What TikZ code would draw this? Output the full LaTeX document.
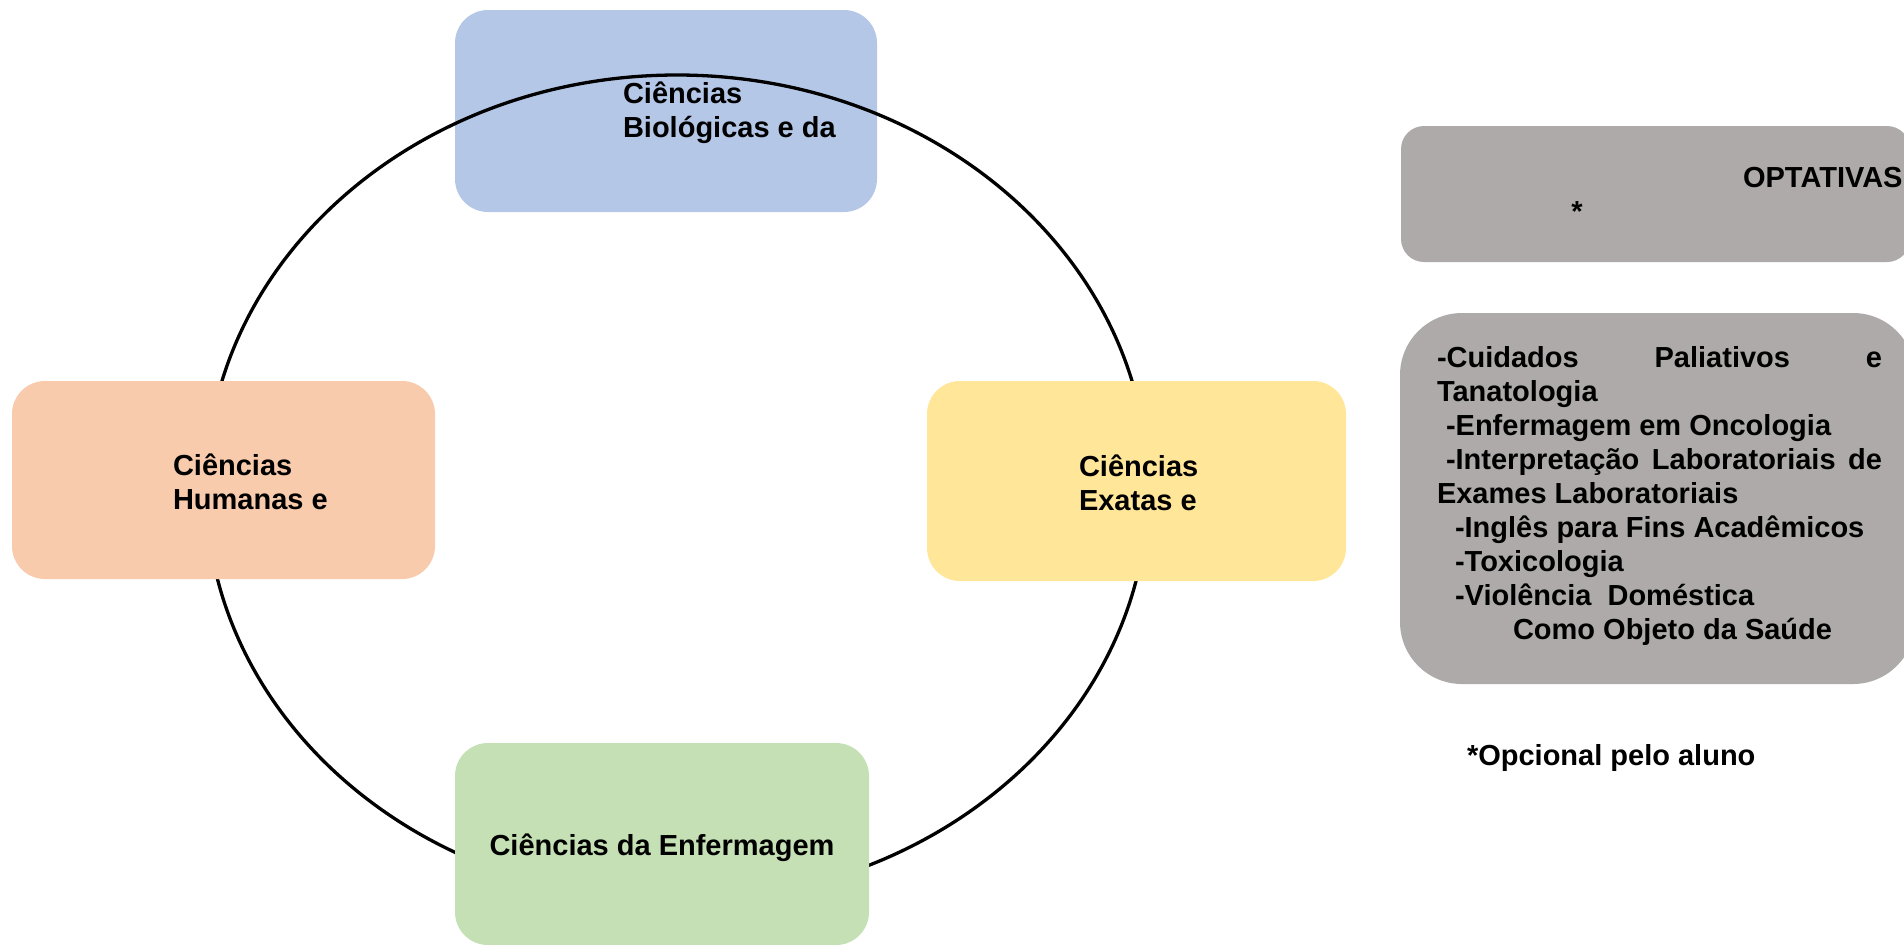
\documentclass[tikz,border=0pt]{standalone}
\usepackage{fontspec}
\setmainfont{Liberation Sans}
\usetikzlibrary{shapes.geometric}
\definecolor{cblue}{HTML}{B4C7E7}
\definecolor{corange}{HTML}{F8CBAD}
\definecolor{cyellow}{HTML}{FFE699}
\definecolor{cgreen}{HTML}{C5E0B4}
\definecolor{cgrey}{HTML}{AEAAAA}
\begin{document}
\begin{tikzpicture}[x=0.5pt,y=-0.5pt,
  areabox/.style={rectangle, draw=none, inner sep=0pt, outer sep=0pt, rounded corners=16.5pt},
  txt/.style={anchor=base west, inner sep=0pt, outer sep=0pt, font=\fontsize{14.5pt}{17pt}\selectfont\bfseries},
  ring/.style={ellipse, draw=black, line width=1.65pt, inner sep=0pt, minimum width=471pt, minimum height=413pt}]
\useasboundingbox (0,0) rectangle (1904,944);
% top box (behind the ring)
\node[areabox, fill=cblue, minimum width=211pt, minimum height=101pt] (bio) at (666,111) {};
% ring
\node[ring] (cycle) at (677,488) {};
% other boxes (in front of the ring)
\node[areabox, fill=corange, minimum width=211.5pt, minimum height=99pt] (hum) at (223.5,480) {};
\node[areabox, fill=cyellow, minimum width=209.5pt, minimum height=100pt] (exa) at (1136.5,481) {};
\node[areabox, fill=cgreen, minimum width=207pt, minimum height=101pt] (enf) at (662,844) {};
\node[areabox, fill=cgrey, minimum width=254.5pt, minimum height=68pt, rounded corners=11.5pt] (optbox) at (1655.5,194) {};
\node[areabox, fill=cgrey, minimum width=257.5pt, minimum height=185.5pt, rounded corners=31pt] (listbox) at (1657.5,498.5) {};
% texts
\node[txt] (bio1) at (623,103) {Ciências};
\node[txt] (bio2) at (623,137) {Biológicas e da};
\node[txt] (hum1) at (173,475) {Ciências};
\node[txt] (hum2) at (173,509) {Humanas e};
\node[txt] (exa1) at (1079,476) {Ciências};
\node[txt] (exa2) at (1079,510) {Exatas e};
\node[txt, anchor=base] (enf1) at (662,855) {Ciências da Enfermagem};
\node[txt] (opt1) at (1743,187) {OPTATIVAS};
\node[txt, anchor=base] (opt2) at (1577,221) {*};
\node[txt] (l1) at (1437,367) {\hbox to 222.5pt{-Cuidados\hfill Paliativos\hfill e}};
\node[txt] (l2) at (1437,401) {Tanatologia};
\node[txt] (l3) at (1446,435) {-Enfermagem em Oncologia};
\node[txt] (l4) at (1446,469) {\hbox to 218pt{-Interpretação\hfill Laboratoriais\hfill de}};
\node[txt] (l5) at (1437,503) {Exames Laboratoriais};
\node[txt] (l6) at (1455,537) {-Inglês para Fins Acadêmicos};
\node[txt] (l7) at (1455,571) {-Toxicologia};
\node[txt] (l8) at (1455,605) {-Violência\ \ Doméstica};
\node[txt] (l9) at (1513,639) {Como Objeto da Saúde};
\node[txt] (note) at (1467,765) {*Opcional pelo aluno};
\end{tikzpicture}
\end{document}
